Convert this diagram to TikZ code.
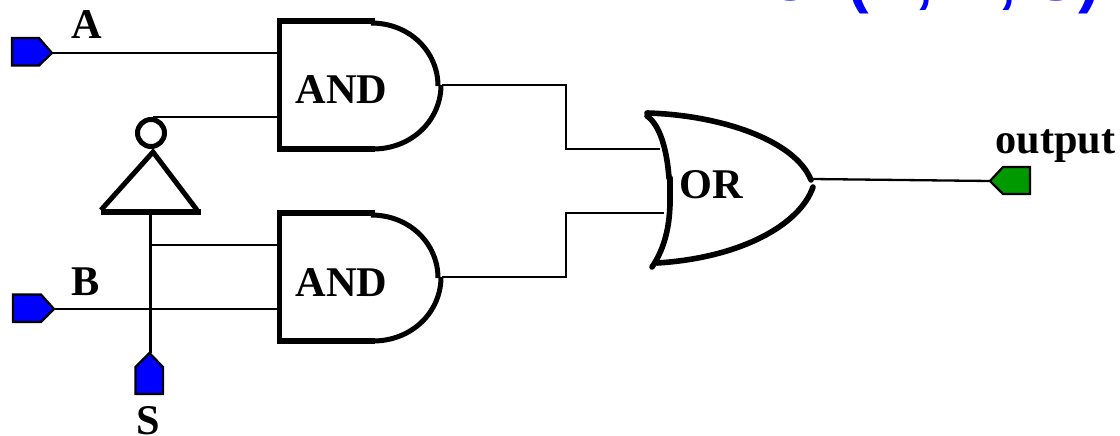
\documentclass[tikz,border=0pt]{standalone}
\usepackage{fontspec}
\setmainfont{Liberation Serif}
\newfontfamily\titlefont{Liberation Sans}
\definecolor{pinblue}{RGB}{0,0,255}
\definecolor{pingreen}{RGB}{0,153,0}
\tikzset{
  wire/.style={line width=2.3pt,black,line join=miter},
  gateline/.style={line width=5pt,black},
  gatebar/.style={line width=6pt,black},
  orline/.style={line width=5.6pt,black,line cap=round},
  pinshape/.style={line width=2.2pt,draw=black},
  lbl/.style={font=\bfseries\fontsize{42.3}{46}\selectfont,inner sep=0pt,anchor=base west,text=black},
}
\begin{document}
\begin{tikzpicture}[x=1pt,y=-1pt]
\useasboundingbox (0,0) rectangle (1120,436);
\begin{scope}
\clip (0,0) rectangle (1120,436);
\node[inner sep=0pt,anchor=base east,text=pinblue,font=\titlefont\bfseries\fontsize{65}{70}\selectfont] (title) at (1100,1) {C\hspace{17pt} (A, B, S)};
\end{scope}
% ports
\coordinate (pinA) at (52,53);
\coordinate (pinB) at (54,309);
\coordinate (pinS) at (150.5,353);
\coordinate (pinOut) at (990,181);
\coordinate (and1a) at (277,53);
\coordinate (and1b) at (277,117);
\coordinate (and1o) at (442,85);
\coordinate (and2a) at (277,245);
\coordinate (and2b) at (277,309);
\coordinate (and2o) at (442,277);
\coordinate (or1) at (660,149);
\coordinate (or2) at (664,213);
\coordinate (oro) at (812,179);
\coordinate (invIn) at (150.5,212);
\coordinate (invOut) at (153,117);
\coordinate (tap) at (150.5,245);
\coordinate (sB) at (150.5,309);
% pins
\filldraw[pinshape,fill=pinblue] (12,38) -- (39,38) -- (pinA) -- (39,65.5) -- (12,65.5) -- cycle;
\filldraw[pinshape,fill=pinblue] (13,294.5) -- (41,294.5) -- (pinB) -- (41,322) -- (13,322) -- cycle;
\filldraw[pinshape,fill=pinblue] (149.5,353) -- (163,367) -- (163,394) -- (135.5,394) -- (135.5,367) -- cycle;
\filldraw[pinshape,fill=pingreen] (pinOut) -- (1003,167) -- (1030,167) -- (1030,194) -- (1003,194) -- cycle;
% wires
\draw[wire] (pinA) -- (and1a);
\draw[wire] (invOut) -- (and1b);
\draw[wire] (pinB) -- (and2b);
\draw[wire] (invIn) -- (tap) -- (sB) -- (pinS);
\draw[wire] (tap) -- (and2a);
\draw[wire] (and1o) -| (566,149) -- (or1);
\draw[wire] (and2o) -| (566,213) -- (or2);
\draw[wire] (oro) -- (pinOut);
% AND gates
\foreach \n/\d in {a/0,b/192}{
  \begin{scope}[yshift=-\d pt]
    \draw[gateline] (279,21) -- (279,149);
    \draw[gatebar] (277,21) -- (375,21);
    \draw[gatebar] (277,149) -- (375,149);
    \draw[gateline] (371,23) .. controls (410,23) and (438,52) .. (438,86);
    \draw[gateline] (441,85) .. controls (441,120) and (412,149) .. (373,149);
  \end{scope}
}
% inverter
\draw[gateline] (151,133) circle (13.5);
\draw[gateline] (101,210) -- (153,152) -- (197,210);
\draw[gatebar] (101,212) -- (201,212);
% OR gate
\draw[orline] (647,113) .. controls (720,115) and (795,140) .. (811,180);
\draw[orline] (813,187) .. controls (800,225) and (740,258) .. (657,263);
\draw[orline] (647,116) .. controls (660,125) and (667,150) .. (669,178);
\draw[line width=6pt,line cap=round] (670,178) -- (670,205);
\draw[orline] (670,200) .. controls (670,225) and (665,248) .. (652,267);
% labels
\node[lbl] (la) at (71,39) {A};
\node[lbl] (lb) at (71,295) {B};
\node[lbl] (ls) at (136,434) {S};
\node[lbl] (and1) at (295.5,103) {AND};
\node[lbl] (and2) at (295.5,296) {AND};
\node[lbl] (lor) at (679,198) {OR};
\node[lbl] (lout) at (995.5,153) {output};
\end{tikzpicture}
\end{document}
